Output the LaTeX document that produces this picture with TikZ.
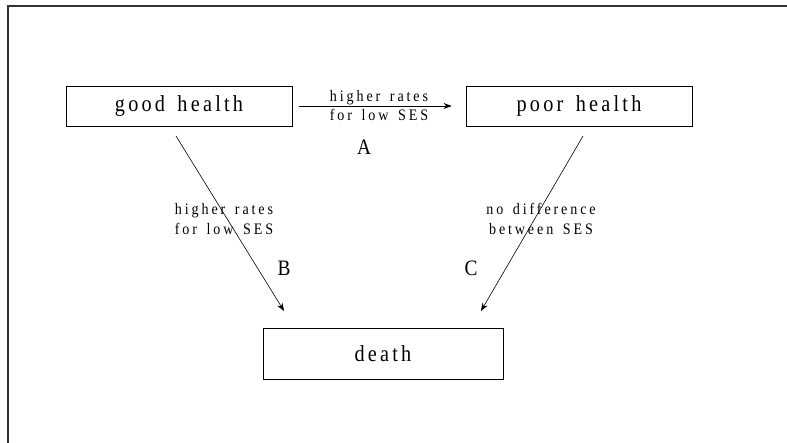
\documentclass[tikz,border=0pt]{standalone}
\usepackage{fontspec}
\setmainfont{Liberation Serif}
\newfontfamily\boxfont[FakeStretch=0.88,LetterSpace=14,WordSpace=1.5]{Liberation Serif}
\newfontfamily\notefont[FakeStretch=0.88,LetterSpace=18,WordSpace=1.5]{Liberation Serif}
\newfontfamily\tagfont[FakeStretch=0.88]{Liberation Serif}
\usetikzlibrary{arrows.meta}

\tikzset{
  state/.style={draw, line width=0.8pt, minimum width=226pt, minimum height=40pt,
    inner sep=0pt, font=\boxfont\fontsize{23}{24}\selectfont},
  note/.style={align=center, font=\notefont\fontsize{16}{20}\selectfont},
  path/.style={-{Stealth[length=8pt,width=6pt]}, line width=0.6pt},
  tag/.style={font=\tagfont\fontsize{22}{24}\selectfont}
}

\begin{document}
\begin{tikzpicture}[x=1pt,y=-1pt]
    \useasboundingbox (0,0) rectangle (787,443);
    \draw[line width=1.3pt, black!80] (787,6) -- (8,6) -- (8,443);

    \node[state] (good) at (179,106) {good health\hspace{18pt}};
    \node[state] (poor) at (579,106) {poor health};
    \node[state, minimum width=240pt, minimum height=51pt] (death) at (383,353.5) {death};

    \coordinate (bs) at (176,136);
    \coordinate (be) at (284,311);
    \coordinate (cs) at (583,136);
    \coordinate (ce) at (481,311);

    \draw[path, shorten <=7pt, shorten >=14pt] (good) to
      node[note, anchor=base, yshift=4pt] (ahigh) {higher rates}
      node[note, anchor=base, yshift=-15pt] (alow) {for low SES} (poor);
    \draw[path] (bs) to (be);
    \draw[path] (cs) to (ce);

    \node[tag] (a) at (364,147) {A};
    \node[tag] (b) at (284,268) {B};
    \node[tag] (c) at (471,268) {C};
    \node[note] (bnote) at (224,219) {higher rates\\for low SES};
    \node[note] (cnote) at (541,219) {no difference\\between SES};
\end{tikzpicture}
\end{document}
